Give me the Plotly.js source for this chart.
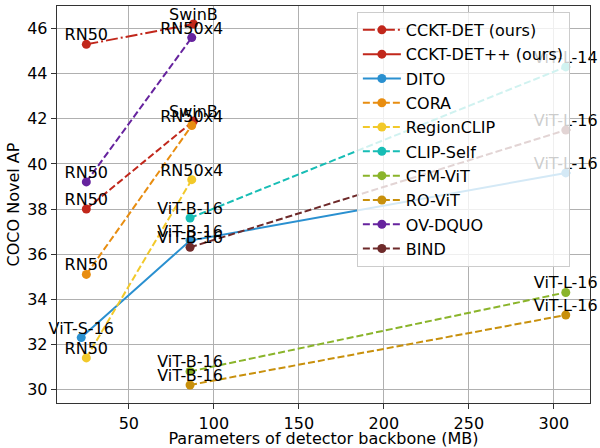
<!DOCTYPE html>
<html>
<head>
<meta charset="utf-8">
<script src="https://cdn.plot.ly/plotly-3.0.1.min.js"></script>
<style>html,body{margin:0;padding:0;background:#fff;}#chart{width:600px;height:448px;}</style>
</head>
<body>
<div id="chart"></div>
<script>
// ---- data ----
const ccktX = [25, 88];
const ccktY = [45.3, 46.2];
const ccktL = ["RN50", "SwinB"];

const ccktppX = [25, 88];
const ccktppY = [38.0, 41.9];
const ccktppL = ["RN50", "SwinB"];

const ditoX = [22, 86, 307];
const ditoY = [32.3, 36.6, 39.6];
const ditoL = ["ViT-S-16", "ViT-B-16", "ViT-L-16"];

const coraX = [25, 87];
const coraY = [35.1, 41.7];
const coraL = ["RN50", "RN50x4"];

const regionclipX = [25, 87];
const regionclipY = [31.4, 39.3];
const regionclipL = ["RN50", "RN50x4"];

const clipselfX = [86, 307];
const clipselfY = [37.6, 44.3];
const clipselfL = ["ViT-B-16", "ViT-L-14"];

const cfmX = [86, 307];
const cfmY = [30.8, 34.3];
const cfmL = ["ViT-B-16", "ViT-L-16"];

const rovitX = [86, 307];
const rovitY = [30.2, 33.3];
const rovitL = ["ViT-B-16", "ViT-L-16"];

const ovdquoX = [25, 87];
const ovdquoY = [39.2, 45.6];
const ovdquoL = ["RN50", "RN50x4"];

const bindX = [86, 307];
const bindY = [36.3, 41.5];
const bindL = ["ViT-B-16", "ViT-L-16"];

// ---- styles ----
const DASH = "7px,3px";
const DASHDOT = "12px,3px,2px,3px";
const FONT = "DejaVu Sans, Verdana, sans-serif";

const series = [
  {name: "CCKT-DET (ours)", x: ccktX, y: ccktY, t: ccktL, c: "#c1271b", d: DASHDOT},
  {name: "CCKT-DET++ (ours)", x: ccktppX, y: ccktppY, t: ccktppL, c: "#c1271b", d: DASH, legendDash: "solid"},
  {name: "DITO", x: ditoX, y: ditoY, t: ditoL, c: "#2a90d0", d: "solid"},
  {name: "CORA", x: coraX, y: coraY, t: coraL, c: "#e88d10", d: DASH},
  {name: "RegionCLIP", x: regionclipX, y: regionclipY, t: regionclipL, c: "#f2c92a", d: DASH},
  {name: "CLIP-Self", x: clipselfX, y: clipselfY, t: clipselfL, c: "#17bdb5", d: DASH},
  {name: "CFM-ViT", x: cfmX, y: cfmY, t: cfmL, c: "#8ab42a", d: DASH},
  {name: "RO-ViT", x: rovitX, y: rovitY, t: rovitL, c: "#c8900c", d: DASH},
  {name: "OV-DQUO", x: ovdquoX, y: ovdquoY, t: ovdquoL, c: "#66239e", d: DASH},
  {name: "BIND", x: bindX, y: bindY, t: bindL, c: "#6e2a2a", d: DASH}
];

const traces = [];
series.forEach(function (s, i) {
  const g = "g" + i;
  if (s.legendDash) {
    traces.push({type: "scatter", mode: "lines+markers", name: s.name, x: s.x, y: s.y,
      line: {color: s.c, width: 2, dash: s.d}, marker: {color: s.c, size: 9},
      cliponaxis: false, showlegend: false, legendgroup: g});
    traces.push({type: "scatter", mode: "lines+markers", name: s.name, x: [null], y: [null],
      line: {color: s.c, width: 2, dash: s.legendDash}, marker: {color: s.c, size: 9},
      showlegend: true, legendgroup: g});
  } else {
    traces.push({type: "scatter", mode: "lines+markers", name: s.name, x: s.x, y: s.y,
      line: {color: s.c, width: 2, dash: s.d}, marker: {color: s.c, size: 9},
      cliponaxis: false, showlegend: true, legendgroup: g});
  }
});
// point labels on top of all lines
series.forEach(function (s, i) {
  traces.push({type: "scatter", mode: "text", x: s.x, y: s.y, text: s.t,
    textposition: "top center", marker: {size: 1},
    textfont: {family: FONT, size: 16, color: "#000"},
    cliponaxis: false, showlegend: false, hoverinfo: "skip"});
});

const axisCommon = {
  showline: true, mirror: true, linecolor: "#333", linewidth: 1.3,
  showgrid: true, gridcolor: "#b0b0b0", gridwidth: 1,
  ticks: "outside", ticklen: 5, tickcolor: "#333", tickwidth: 1,
  tickfont: {family: FONT, size: 16, color: "#000"},
  zeroline: false
};

const layout = {
  width: 600, height: 448,
  margin: {l: 57, r: 10, t: 6, b: 45},
  paper_bgcolor: "#fff", plot_bgcolor: "#fff",
  font: {family: FONT, size: 16, color: "#000"},
  xaxis: Object.assign({}, axisCommon, {
    range: [7.75, 321.25], dtick: 50, tick0: 0,
    title: {text: "Parameters of detector backbone (MB)", font: {family: FONT, size: 16, color: "#000"}, standoff: 6}
  }),
  yaxis: Object.assign({}, axisCommon, {
    range: [29.4, 47.0], dtick: 2, tick0: 0,
    title: {text: "COCO Novel AP", font: {family: FONT, size: 16, color: "#000"}, standoff: 3}
  }),
  legend: {
    x: 0.5626, y: 0.985, xanchor: "left", yanchor: "top",
    bgcolor: "rgba(255,255,255,0.8)", bordercolor: "#cccccc", borderwidth: 1,
    font: {family: FONT, size: 16, color: "#000"},
    itemwidth: 38, traceorder: "grouped", tracegroupgap: 0.5
  },
  showlegend: true
};

Plotly.newPlot("chart", traces, layout, {displayModeBar: false, staticPlot: true});
</script>
</body>
</html>
